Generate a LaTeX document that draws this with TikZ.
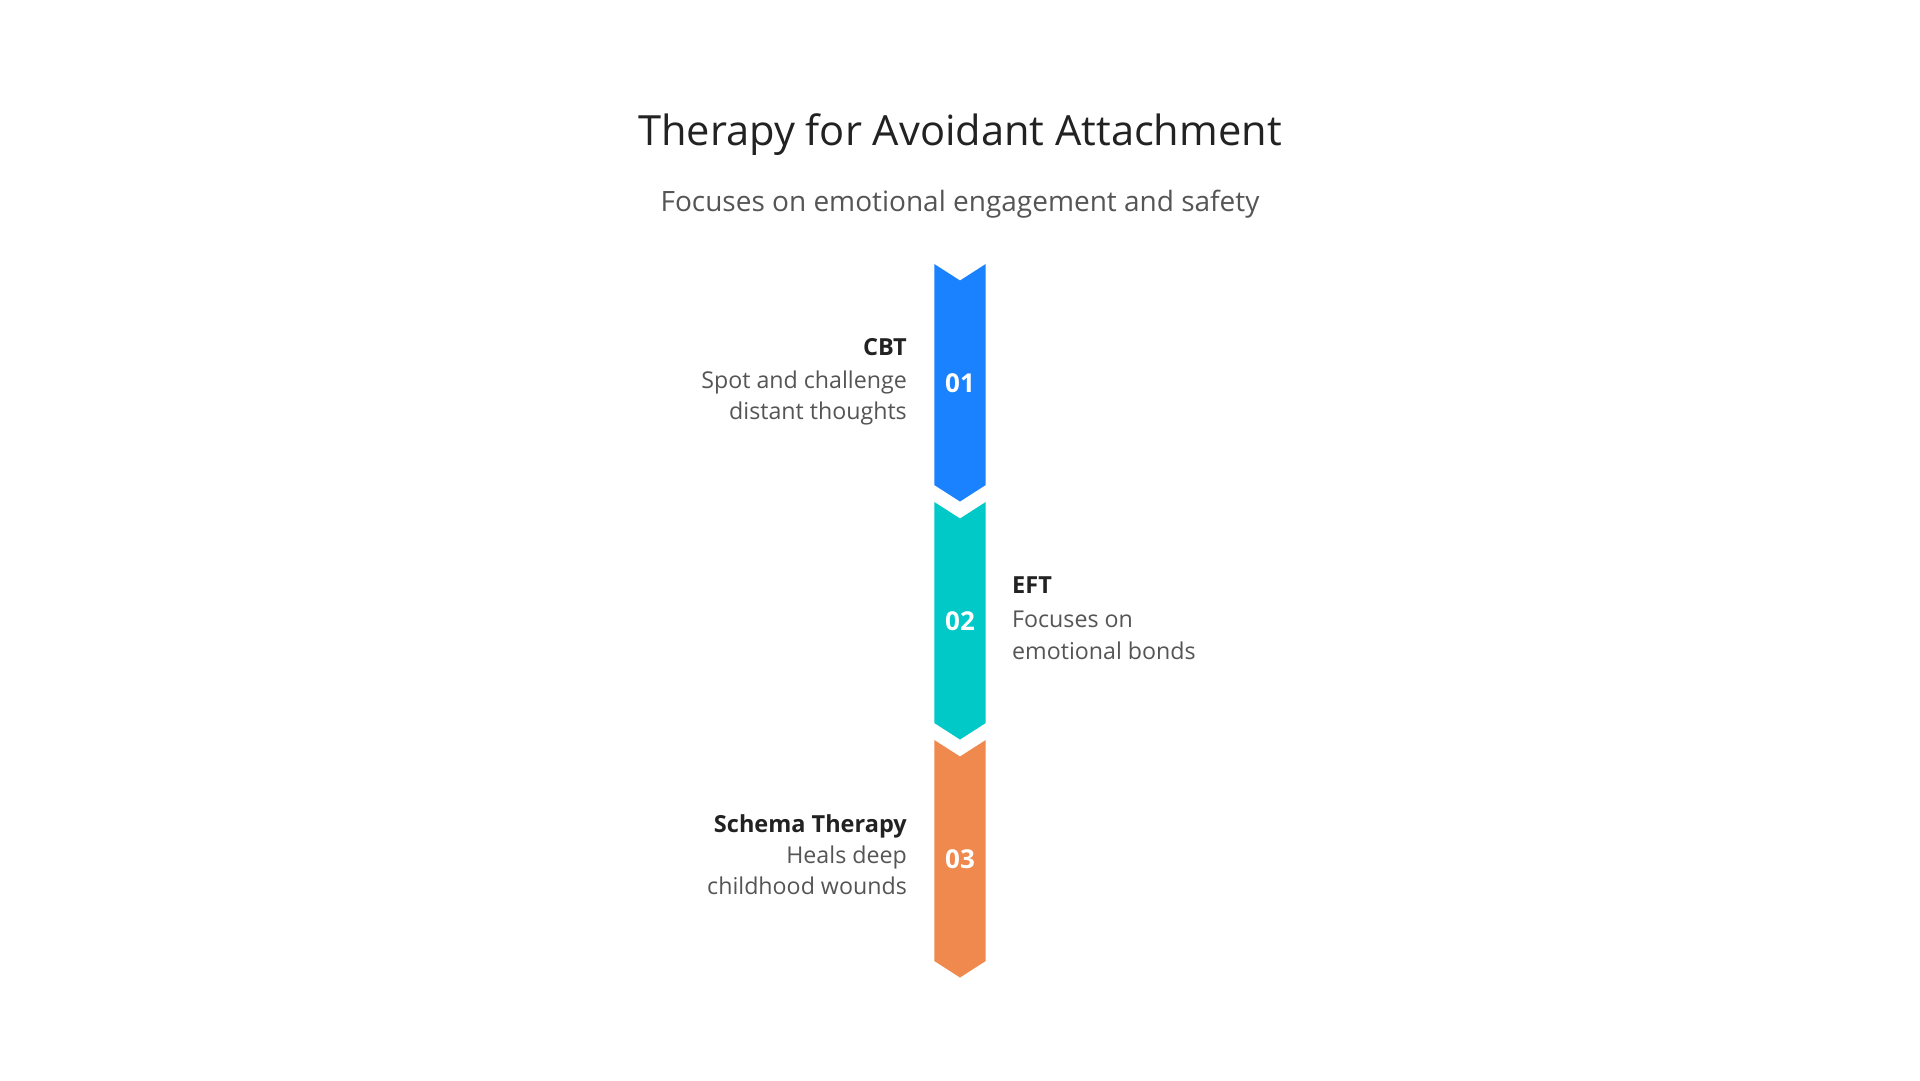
\documentclass[tikz,border=0pt]{standalone}
\usepackage{fontspec}
\setmainfont{Open Sans}
\usetikzlibrary{positioning}

\definecolor{chevblue}{HTML}{1A82FF}
\definecolor{chevteal}{HTML}{00C9C8}
\definecolor{chevorange}{HTML}{F0894D}
\definecolor{headgray}{HTML}{222222}
\definecolor{bodygray}{HTML}{555555}

\tikzset{
  titletxt/.style={inner sep=0pt, text=headgray, font=\fontsize{41.6}{46}\selectfont},
  subtxt/.style={inner sep=0pt, text=bodygray, font=\fontsize{28}{32}\selectfont},
  headtxt/.style={inner sep=0pt, text=headgray, font=\fontsize{23.5}{27}\selectfont\bfseries},
  bodytxt/.style={inner sep=0pt, text=bodygray, font=\fontsize{23.2}{27}\selectfont},
  numtxt/.style={inner sep=0pt, text=white, font=\fontsize{26}{30}\selectfont\bfseries},
}

% chevron: colour, top y
\newcommand{\chevronstep}[2]{%
  \fill[#1] (934.3,#2) -- (960,#2+16.5) -- (985.7,#2) -- (985.7,#2+221)
    -- (960,#2+237.5) -- (934.3,#2+221) -- cycle;
}

\begin{document}
\begin{tikzpicture}[x=1pt, y=-1pt]
    % --- Cadre ---
    \fill[white] (0,0) rectangle (1920,1080);
    \useasboundingbox (0,0) rectangle (1920,1080);

    % --- Titre ---
    \node[titletxt, anchor=base] (title) at (960,145) {Therapy for Avoidant Attachment};
    \node[subtxt, anchor=base] (subtitle) at (960,211) {Focuses on emotional engagement and safety};

    % --- Etape 1 : CBT ---
    \chevronstep{chevblue}{264}
    \node[numtxt] (num1) at (960,383) {01};
    \node[headtxt, anchor=base east] (cbt) at (907,355) {CBT};
    \node[bodytxt, anchor=base east] (cbtA) at ([yshift=-33pt]cbt.base east) {Spot and challenge};
    \node[bodytxt, anchor=base east] (cbtB) at ([yshift=-31pt]cbtA.base east) {distant thoughts};

    % --- Etape 2 : EFT ---
    \chevronstep{chevteal}{502}
    \node[numtxt] (num2) at (960,621) {02};
    \node[headtxt, anchor=base west] (eft) at (1012,593) {EFT};
    \node[bodytxt, anchor=base west] (eftA) at ([yshift=-34pt]eft.base west) {Focuses on};
    \node[bodytxt, anchor=base west] (eftB) at ([yshift=-32pt]eftA.base west) {emotional bonds};

    % --- Etape 3 : Schema Therapy ---
    \chevronstep{chevorange}{740}
    \node[numtxt] (num3) at (960,859) {03};
    \node[headtxt, anchor=base east] (schema) at (907,832) {Schema Therapy};
    \node[bodytxt, anchor=base east] (schemaA) at ([yshift=-31pt]schema.base east) {Heals deep};
    \node[bodytxt, anchor=base east] (schemaB) at ([yshift=-31pt]schemaA.base east) {childhood wounds};
\end{tikzpicture}
\end{document}
